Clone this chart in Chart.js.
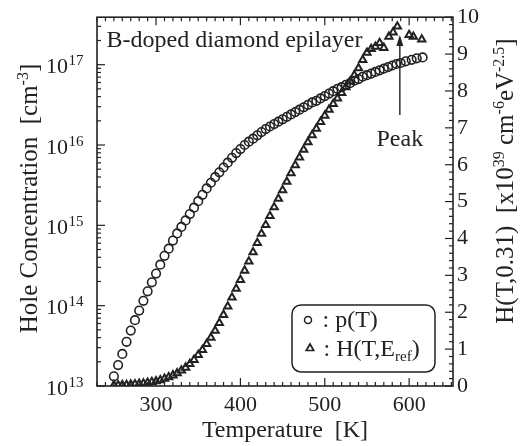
<!DOCTYPE html>
<html><head><meta charset="utf-8">
<script src="https://cdn.jsdelivr.net/npm/chart.js@4.4.1/dist/chart.umd.min.js"></script>
<style>html,body{margin:0;padding:0;background:#fff}#c{display:block}</style>
</head><body>
<canvas id="c" width="521" height="446"></canvas>
<script>
// ---- data ----
const temperaturesP = [250,255,260,265,270,275,280,285,290,295,300,305,310,315,320,325,330,335,340,345,350,355,360,365,370,375,380,385,390,395,400,405,410,415,420,425,430,435,440,445,450,455,460,465,470,475,480,485,490,495,500,505,510,515,520,525,530,535,540,545,550,555,560,565,570,575,580,585,590,596,603,609,616];
const holeConcentration = [1.32e13,1.82e13,2.51e13,3.55e13,4.9e13,6.6e13,8.7e13,1.15e14,1.51e14,1.95e14,2.51e14,3.24e14,4.17e14,5.13e14,6.46e14,7.94e14,9.55e14,1.15e15,1.38e15,1.66e15,2.0e15,2.4e15,2.88e15,3.39e15,3.98e15,4.57e15,5.25e15,6.03e15,6.92e15,7.94e15,8.91e15,1.0e16,1.10e16,1.20e16,1.32e16,1.45e16,1.58e16,1.70e16,1.82e16,1.95e16,2.09e16,2.24e16,2.40e16,2.57e16,2.75e16,2.95e16,3.16e16,3.39e16,3.55e16,3.80e16,4.07e16,4.37e16,4.68e16,5.01e16,5.25e16,5.62e16,5.89e16,6.31e16,6.61e16,7.08e16,7.41e16,7.76e16,8.13e16,8.51e16,8.91e16,9.33e16,9.77e16,1.02e17,1.05e17,1.10e17,1.15e17,1.20e17,1.23e17];
const temperaturesH = [250,255,260,265,270,275,280,285,290,295,300,305,310,315,320,325,330,335,340,345,350,355,360,365,370,375,380,385,390,395,400,405,410,415,420,425,430,435,440,445,450,455,460,465,470,475,480,485,490,495,500,505,510,515,520,525,530,535,540,545,550,555,560,565,570,576,581,586,600,605,615];
const hValues = [0.02,0.02,0.03,0.03,0.04,0.05,0.06,0.07,0.09,0.11,0.13,0.16,0.20,0.24,0.29,0.35,0.42,0.50,0.60,0.71,0.84,0.98,1.14,1.31,1.50,1.71,1.93,2.16,2.40,2.64,2.88,3.13,3.38,3.63,3.88,4.13,4.37,4.61,4.85,5.08,5.31,5.54,5.77,5.99,6.20,6.41,6.61,6.80,6.98,7.16,7.33,7.49,7.65,7.80,7.95,8.10,8.26,8.43,8.62,8.84,9.04,9.14,9.20,9.30,9.17,9.47,9.59,9.75,9.52,9.47,9.40];
const xTickValues = [300,400,500,600];
const yLeftDecades = [13,14,15,16,17];
const yRightTicks = [0,1,2,3,4,5,6,7,8,9,10];
const peakArrow = {x:589, from:7.35, to:9.52};

const FONT = "'Liberation Serif','Times New Roman',serif";
const INK = '#222';

function line(ctx,x1,y1,x2,y2){ctx.beginPath();ctx.moveTo(x1,y1);ctx.lineTo(x2,y2);ctx.stroke();}
function segFont(s, base){ return (s.k ? Math.round(base*0.64) : base) + 'px ' + FONT; }
function richWidth(ctx, segs, base){ let w=0; for(const s of segs){ ctx.font=segFont(s,base); w+=ctx.measureText(s.t).width; } return w; }
function drawRich(ctx, segs, x, y, base, align){
  let cx = align==='center' ? x - richWidth(ctx,segs,base)/2 : x;
  ctx.textAlign='left'; ctx.textBaseline='alphabetic';
  for(const s of segs){
    ctx.font=segFont(s,base);
    const dy = s.k==='sup' ? -base*0.38 : (s.k==='sub' ? base*0.22 : 0);
    ctx.fillText(s.t, cx, y+dy);
    cx += ctx.measureText(s.t).width;
  }
}

const decor = {
  id:'decor',
  afterDraw(chart){
    const {ctx, chartArea:a, scales:{x,y,y2}} = chart;
    ctx.save();
    ctx.strokeStyle=INK; ctx.fillStyle=INK; ctx.lineWidth=1.2;
    for(let t=Math.ceil(x.min/10)*10; t<=x.max; t+=10){
      const px=x.getPixelForValue(t); const len = xTickValues.includes(t) ? 8 : 4;
      line(ctx,px,a.bottom,px,a.bottom-len); line(ctx,px,a.top,px,a.top+len);
    }
    for(const e of yLeftDecades){
      for(let m=1;m<=9;m++){
        const v=m*Math.pow(10,e); if(v>y.max) break;
        const py=y.getPixelForValue(v); const len = m===1 ? 8 : 4;
        line(ctx,a.left,py,a.left+len,py);
      }
    }
    for(let i=0;i<=50;i++){
      const v=i*0.2; const py=y2.getPixelForValue(v); const len = (i%5===0) ? 8 : 4;
      line(ctx,a.right,py,a.right-len,py);
    }
    ctx.lineWidth=1.6;
    ctx.strokeRect(a.left,a.top,a.right-a.left,a.bottom-a.top);
    for(const e of yLeftDecades){
      const py=y.getPixelForValue(Math.pow(10,e));
      ctx.font='22px '+FONT; ctx.textAlign='right'; ctx.textBaseline='alphabetic';
      ctx.fillText('10', 68, py+8.5);
      ctx.font='15px '+FONT; ctx.textAlign='left';
      ctx.fillText(String(e), 68.5, py+0.5);
    }
    ctx.font='24px '+FONT; ctx.textAlign='center'; ctx.textBaseline='alphabetic';
    ctx.fillText('Temperature  [K]', 285, 437);
    ctx.save(); ctx.translate(37,198.5); ctx.rotate(-Math.PI/2);
    drawRich(ctx,[{t:'Hole Concentration  [cm'},{t:'-3',k:'sup'},{t:']'}],0,0,25,'center');
    ctx.restore();
    ctx.save(); ctx.translate(513,181); ctx.rotate(-Math.PI/2);
    drawRich(ctx,[{t:'H(T,0.31)  [x10'},{t:'39',k:'sup'},{t:' cm'},{t:'-6',k:'sup'},{t:'eV'},{t:'-2.5',k:'sup'},{t:']'}],0,0,25,'center');
    ctx.restore();
    ctx.font='24px '+FONT; ctx.textAlign='left'; ctx.fillText('B-doped diamond epilayer', 106.5, 46.5);
    const ax=x.getPixelForValue(peakArrow.x), yT=y2.getPixelForValue(peakArrow.from), yH=y2.getPixelForValue(peakArrow.to);
    ctx.lineWidth=1.4; line(ctx,ax,yT,ax,yH+8);
    ctx.beginPath(); ctx.moveTo(ax,yH); ctx.lineTo(ax-3.5,yH+11); ctx.lineTo(ax+3.5,yH+11); ctx.closePath(); ctx.fill();
    ctx.font='24px '+FONT; ctx.textAlign='center'; ctx.fillText('Peak', ax, yT+31);
    ctx.lineWidth=1.5;
    ctx.beginPath(); ctx.roundRect(292,305,143,67,9); ctx.stroke();
    ctx.lineWidth=1.5; ctx.beginPath(); ctx.arc(308,320,3.5,0,Math.PI*2); ctx.stroke();
    ctx.beginPath(); ctx.moveTo(310,344); ctx.lineTo(306.3,350.5); ctx.lineTo(313.7,350.5); ctx.closePath(); ctx.lineWidth=1.7; ctx.stroke();
    ctx.font='24px '+FONT; ctx.textAlign='left'; ctx.fillText(': p(T)', 322.5, 327);
    drawRich(ctx,[{t:': H(T,E'},{t:'ref',k:'sub'},{t:')'}],323.5,356,24,'left');
    ctx.restore();
  }
};

new Chart(document.getElementById('c'), {
  type:'scatter',
  data:{datasets:[
    {label:'p(T)', data: temperaturesP.map((t,i)=>({x:t,y:holeConcentration[i]})), yAxisID:'y',
     pointStyle:'circle', pointRadius:4.3, borderWidth:1.6, borderColor:INK, backgroundColor:'rgba(0,0,0,0)', showLine:false},
    {label:'H(T,Eref)', data: temperaturesH.map((t,i)=>({x:t,y:hValues[i]})), yAxisID:'y2',
     pointStyle:'triangle', pointRadius:4.2, borderWidth:2, borderColor:INK, backgroundColor:'rgba(0,0,0,0)', showLine:false}
  ]},
  options:{
    responsive:false, animation:false, devicePixelRatio:1,
    layout:{padding:{top:17,left:0,right:0,bottom:0}},
    plugins:{legend:{display:false}, tooltip:{enabled:false}},
    scales:{
      x:{type:'linear', position:'bottom', min:230, max:652,
         afterBuildTicks:s=>{s.ticks=xTickValues.map(v=>({value:v}));},
         afterFit:s=>{s.height=60;},
         grid:{display:false, drawTicks:false}, border:{display:false},
         ticks:{font:{family:FONT,size:22}, color:INK, padding:6, maxRotation:0, autoSkip:false}},
      y:{type:'logarithmic', position:'left', min:1e13, max:3.9e17,
         afterFit:s=>{s.width=97;},
         grid:{display:false, drawTicks:false}, border:{display:false}, ticks:{display:false}},
      y2:{type:'linear', position:'right', min:0, max:10,
         afterBuildTicks:s=>{s.ticks=yRightTicks.map(v=>({value:v}));},
         afterFit:s=>{s.width=68;},
         grid:{display:false, drawTicks:false}, border:{display:false},
         ticks:{font:{family:FONT,size:22}, color:INK, padding:4, autoSkip:false}}
    }
  },
  plugins:[decor]
});
</script>
</body></html>
